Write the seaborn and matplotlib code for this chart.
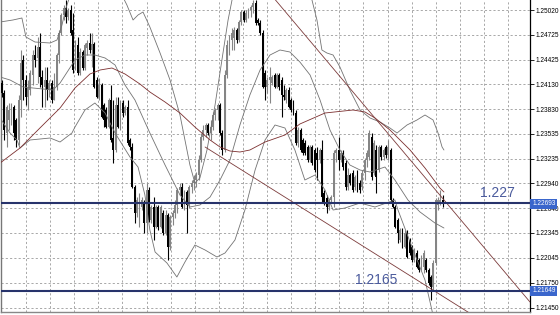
import numpy as np
import pandas as pd
import matplotlib
matplotlib.use("Agg")
import matplotlib.pyplot as plt
import matplotlib.transforms as mtransforms
import seaborn as sns

# ---------------- data ----------------
opens = [
1.2414,1.2402,1.2354,1.2370,1.2374,1.2386,1.2370,1.2346,1.2394,1.2442,
1.2418,1.2398,1.2406,1.2424,1.2448,1.2444,1.2458,1.2422,1.2410,1.2418,
1.2406,1.2414,1.2394,1.2410,1.2448,1.2474,1.2496,1.2504,1.2494,1.2502,
1.2478,1.2436,1.2460,1.2426,1.2452,1.2432,1.2456,1.2462,1.2454,1.2461,
1.2418,1.2398,1.2412,1.2388,1.2382,1.2362,1.2394,1.2348,1.2334,1.2388,
1.2362,1.2390,1.2378,1.2386,1.2346,1.2338,1.2290,1.2258,1.2268,1.2266,
1.2270,1.2246,1.2286,1.2250,1.2266,1.2242,1.2266,1.2242,1.2258,1.2234,
1.2256,1.2218,1.2254,1.2258,1.2268,1.2286,1.2290,1.2266,1.2284,1.2268,
1.2290,1.2294,1.2298,1.2304,1.2322,1.2350,1.2358,1.2364,1.2354,1.2362,
1.2376,1.2382,1.2388,1.2354,1.2334,1.2424,1.2460,1.2466,1.2468,1.2478,
1.2466,1.2488,1.2500,1.2490,1.2496,1.2502,1.2506,1.2510,1.2490,1.2486,
1.2474,1.2426,1.2410,1.2418,1.2414,1.2424,1.2410,1.2424,1.2418,1.2400,
1.2394,1.2406,1.2394,1.2390,1.2378,1.2342,1.2358,1.2346,1.2342,1.2338,
1.2322,1.2338,1.2334,1.2330,1.2322,1.2334,1.2282,1.2276,1.2266,1.2274,
1.2278,1.2330,1.2334,1.2322,1.2330,1.2318,1.2290,1.2304,1.2306,1.2290,
1.2306,1.2294,1.2290,1.2306,1.2322,1.2326,1.2350,1.2306,1.2334,1.2310,
1.2338,1.2326,1.2338,1.2328,1.2334,1.2274,1.2266,1.2250,1.2226,1.2238,
1.2218,1.2234,1.2226,1.2218,1.2202,1.2210,1.2202,1.2194,1.2194,1.2202,
1.2190,1.2182,1.2170,1.2198,1.2268,1.2270,1.2274]
highs = [
1.2418,1.2406,1.2388,1.2390,1.2390,1.2388,1.2372,1.2400,1.2454,1.2448,
1.2424,1.2418,1.2430,1.2454,1.2460,1.2470,1.2474,1.2430,1.2434,1.2434,
1.2418,1.2418,1.2426,1.2450,1.2478,1.2498,1.2508,1.2514,1.2504,1.2508,
1.2498,1.2466,1.2470,1.2456,1.2454,1.2462,1.2466,1.2474,1.2474,1.2464,
1.2422,1.2420,1.2414,1.2390,1.2386,1.2396,1.2412,1.2394,1.2398,1.2398,
1.2394,1.2394,1.2388,1.2394,1.2348,1.2342,1.2292,1.2278,1.2282,1.2278,
1.2274,1.2294,1.2290,1.2268,1.2278,1.2268,1.2268,1.2268,1.2262,1.2262,
1.2258,1.2256,1.2262,1.2274,1.2288,1.2294,1.2294,1.2286,1.2286,1.2292,
1.2298,1.2304,1.2308,1.2328,1.2354,1.2364,1.2366,1.2366,1.2370,1.2380,
1.2384,1.2390,1.2390,1.2358,1.2430,1.2466,1.2472,1.2480,1.2482,1.2480,
1.2490,1.2502,1.2502,1.2502,1.2504,1.2508,1.2514,1.2514,1.2492,1.2490,
1.2478,1.2430,1.2422,1.2434,1.2424,1.2426,1.2426,1.2426,1.2422,1.2412,
1.2408,1.2410,1.2396,1.2394,1.2382,1.2362,1.2360,1.2348,1.2346,1.2340,
1.2340,1.2340,1.2336,1.2338,1.2336,1.2346,1.2286,1.2280,1.2276,1.2280,
1.2334,1.2336,1.2350,1.2334,1.2334,1.2322,1.2312,1.2306,1.2310,1.2304,
1.2310,1.2298,1.2310,1.2324,1.2334,1.2358,1.2354,1.2346,1.2340,1.2340,
1.2340,1.2336,1.2340,1.2346,1.2336,1.2276,1.2268,1.2252,1.2240,1.2240,
1.2238,1.2238,1.2228,1.2220,1.2216,1.2214,1.2204,1.2208,1.2214,1.2204,
1.2192,1.2184,1.2202,1.2276,1.2278,1.2286,1.2280]
lows = [
1.2398,1.2346,1.2338,1.2358,1.2364,1.2346,1.2338,1.2340,1.2374,1.2394,
1.2388,1.2382,1.2400,1.2412,1.2434,1.2414,1.2410,1.2386,1.2386,1.2394,
1.2398,1.2390,1.2394,1.2406,1.2438,1.2472,1.2490,1.2486,1.2490,1.2472,
1.2426,1.2430,1.2424,1.2424,1.2430,1.2430,1.2448,1.2450,1.2434,1.2408,
1.2396,1.2394,1.2372,1.2362,1.2360,1.2360,1.2344,1.2318,1.2332,1.2360,
1.2358,1.2374,1.2376,1.2340,1.2334,1.2288,1.2246,1.2254,1.2242,1.2262,
1.2234,1.2234,1.2248,1.2246,1.2226,1.2240,1.2238,1.2240,1.2232,1.2232,
1.2202,1.2214,1.2244,1.2252,1.2258,1.2280,1.2264,1.2262,1.2234,1.2264,
1.2282,1.2286,1.2290,1.2298,1.2320,1.2346,1.2350,1.2352,1.2346,1.2358,
1.2370,1.2370,1.2352,1.2328,1.2332,1.2420,1.2448,1.2454,1.2454,1.2462,
1.2464,1.2484,1.2488,1.2488,1.2492,1.2494,1.2498,1.2484,1.2484,1.2472,
1.2408,1.2394,1.2402,1.2390,1.2412,1.2408,1.2408,1.2406,1.2374,1.2394,
1.2390,1.2384,1.2380,1.2376,1.2340,1.2338,1.2332,1.2328,1.2328,1.2320,
1.2320,1.2316,1.2308,1.2298,1.2318,1.2270,1.2268,1.2258,1.2262,1.2270,
1.2266,1.2320,1.2310,1.2320,1.2310,1.2286,1.2286,1.2292,1.2284,1.2286,
1.2284,1.2282,1.2286,1.2298,1.2314,1.2322,1.2298,1.2304,1.2282,1.2308,
1.2322,1.2322,1.2324,1.2322,1.2272,1.2264,1.2240,1.2222,1.2224,1.2216,
1.2216,1.2204,1.2208,1.2200,1.2200,1.2192,1.2188,1.2190,1.2186,1.2188,
1.2172,1.2154,1.2166,1.2196,1.2262,1.2268,1.2266]
closes = [
1.2402,1.2358,1.2386,1.2382,1.2386,1.2354,1.2346,1.2394,1.2438,1.2418,
1.2398,1.2408,1.2426,1.2448,1.2442,1.2458,1.2422,1.2412,1.2418,1.2406,
1.2414,1.2394,1.2410,1.2448,1.2474,1.2496,1.2504,1.2494,1.2502,1.2474,
1.2430,1.2460,1.2426,1.2452,1.2432,1.2460,1.2462,1.2454,1.2461,1.2410,
1.2398,1.2412,1.2374,1.2370,1.2362,1.2394,1.2346,1.2334,1.2388,1.2362,
1.2390,1.2378,1.2386,1.2342,1.2338,1.2290,1.2258,1.2274,1.2278,1.2274,
1.2246,1.2286,1.2250,1.2266,1.2242,1.2266,1.2242,1.2266,1.2234,1.2256,
1.2218,1.2254,1.2258,1.2268,1.2286,1.2290,1.2266,1.2284,1.2268,1.2290,
1.2294,1.2298,1.2304,1.2322,1.2350,1.2358,1.2364,1.2354,1.2362,1.2376,
1.2382,1.2388,1.2354,1.2334,1.2424,1.2460,1.2466,1.2474,1.2478,1.2466,
1.2488,1.2500,1.2490,1.2498,1.2502,1.2506,1.2510,1.2486,1.2486,1.2474,
1.2410,1.2410,1.2418,1.2422,1.2422,1.2410,1.2424,1.2410,1.2400,1.2398,
1.2406,1.2386,1.2382,1.2378,1.2342,1.2358,1.2334,1.2330,1.2330,1.2322,
1.2338,1.2318,1.2310,1.2322,1.2334,1.2278,1.2270,1.2266,1.2274,1.2278,
1.2330,1.2334,1.2322,1.2330,1.2314,1.2290,1.2304,1.2294,1.2286,1.2302,
1.2286,1.2286,1.2306,1.2322,1.2330,1.2354,1.2302,1.2342,1.2302,1.2338,
1.2326,1.2334,1.2328,1.2338,1.2274,1.2266,1.2242,1.2234,1.2238,1.2218,
1.2234,1.2206,1.2210,1.2202,1.2214,1.2194,1.2190,1.2206,1.2210,1.2190,
1.2174,1.2170,1.2198,1.2274,1.2274,1.2274,1.2269]

# Bollinger bands & moving average, read at sample bars
upper_x = [-0.8,4.6,8.4,10.1,13.9,20.3,23.2,25.3,27.0,29.5,37.1,45.6,50.6,52.7,55.3,57.4,59.5,62.4,66.7,70.9,
           75.1,79.3,81.4,83.5,86.5,89.9,92.8,95.4,97.9,108.9,121.5,127.8,130.8,132.9,135.0,137.1,139.7,142.6,146.8,151.1,
           155.3,159.5,163.7,166.7,170.9,175.1,178.5,181.9,184.0,185.7,186.5]
upper_y = [1.24876,1.2490,1.24924,1.24696,1.24636,1.24624,1.2466,1.2484,1.25044,1.2526,1.2544,1.2538,1.2520,1.2508,1.2490,1.2496,1.24996,1.24816,1.24504,1.2418,
           1.2376,1.2316,1.22944,1.23004,1.2334,1.2388,1.2442,1.2490,1.2526,1.2562,1.2562,1.2538,1.2514,1.2490,1.2454,1.24504,1.2448,1.24336,1.2406,1.2382,
           1.23724,1.23676,1.23604,1.23544,1.2364,1.2370,1.2376,1.2370,1.23544,1.23376,1.2334]
mid_x = [-0.8,3.4,8.9,13.1,21.5,24.5,30.8,35.0,39.2,43.5,47.7,51.9,56.1,62.4,68.8,75.1,79.3,83.5,87.8,92.0,
         96.2,100.4,104.6,108.9,113.1,117.3,121.5,125.7,130.0,134.2,138.4,142.6,146.8,151.1,155.3,161.6,165.8,171.3,176.4,182.7,186.5]
mid_y = [1.24216,1.2418,1.24096,1.24084,1.2406,1.24144,1.2442,1.2448,1.2448,1.24444,1.2436,1.2412,1.2394,1.23544,1.2316,1.2280,1.22656,1.2268,1.22776,1.2298,
         1.2322,1.2364,1.2400,1.2430,1.2448,1.2454,1.24516,1.24396,1.2424,1.2394,1.2358,1.2334,1.2316,1.2310,1.23076,1.23136,1.2298,1.2274,1.22596,1.22464,1.22404]
lower_x = [-0.8,3.4,6.3,7.6,11.8,20.3,24.5,29.5,30.8,35.0,39.2,43.5,47.7,54.0,57.4,60.3,62.4,64.6,69.6,73.8,
           77.2,81.4,85.7,90.7,94.1,98.3,102.5,106.8,111.0,115.2,119.4,123.6,127.8,132.1,136.3,139.7,144.7,151.1,157.4,165.8,
           167.1,173.0,178.5,181.4,183.1]
lower_y = [1.23724,1.23544,1.2346,1.23364,1.2346,1.23484,1.23436,1.23544,1.23616,1.2382,1.23904,1.23784,1.23544,1.23256,1.23136,1.2280,1.2238,1.22116,1.21984,1.21816,
           1.21996,1.2220,1.2214,1.22056,1.22104,1.2226,1.2262,1.2310,1.2346,1.2364,1.23604,1.2334,1.2298,1.2304,1.2286,1.2262,1.22644,1.22704,1.22656,1.2274,
           1.2262,1.22176,1.2178,1.2142,1.2118]
ma_x = [-0.8,7.6,16.0,24.5,30.8,37.1,41.4,46.4,51.9,58.2,62.4,68.8,75.1,81.4,87.8,92.0,96.2,100.4,104.6,111.0,
        119.4,125.7,136.3,148.1,153.2,157.4,163.7,172.2,178.5,184.8,186.5]
ma_y = [1.23184,1.23364,1.23604,1.23844,1.24084,1.24252,1.2430,1.24324,1.24252,1.24132,1.24036,1.23916,1.23784,1.23616,1.2346,1.23376,1.23328,1.23316,1.2334,1.23436,
        1.2352,1.23652,1.23784,1.2382,1.23796,1.23724,1.2358,1.2334,1.23124,1.22884,1.22836]

# trend lines (two anchor points each) and horizontal levels
tl_upper_x = [112.2, 222.8]
tl_upper_y = [1.25248, 1.21516]
tl_lower_x = [85.7, 222.8]
tl_lower_y = [1.23376, 1.20928]
levels = [1.227, 1.2165]
level_labels = ["1.227", "1.2165"]
level_label_x = [201.5, 148.9]
yticks = [1.25020, 1.24725, 1.24425, 1.24130, 1.23830, 1.23535, 1.23235,
          1.22940, 1.22640, 1.22345, 1.22045, 1.21750, 1.21450]
price_tags = [1.22693, 1.21649]

# ---------------- drawing ----------------
sns.set_style("white")
plt.rcParams['font.family'] = ['Liberation Sans', 'DejaVu Sans']

fig = plt.figure(figsize=(5.6, 3.15), dpi=100)
ax = fig.add_axes([0.0018, 0.0095, 0.9446, 0.9905])

n = len(closes)
idx = np.arange(n)
o = np.array(opens); c = np.array(closes); h = np.array(highs); l = np.array(lows)
bull = c >= o
col = np.where(bull, '#858585', '#000000')

# grid
ax.set_xlim(-0.42, 222.8)
ax.set_ylim(1.21396, 1.2514)
ax.set_xticks(np.arange(10.13, 222.8, 10.17))
ax.set_yticks(yticks)
ax.grid(True, color='#a8a8a8', linestyle=(0, (2.2, 2.2)), linewidth=0.7)
ax.set_axisbelow(True)

# candles
ax.vlines(idx, l, h, colors=col, linewidth=0.8, zorder=3)
body = np.maximum(np.abs(c - o), 0.00004)
ax.bar(idx, body, bottom=np.minimum(o, c), width=0.8, color=col, linewidth=0, zorder=4)

# indicators via seaborn
df_u = pd.DataFrame({'x': upper_x, 'y': upper_y})
df_m = pd.DataFrame({'x': mid_x, 'y': mid_y})
df_l = pd.DataFrame({'x': lower_x, 'y': lower_y})
df_ma = pd.DataFrame({'x': ma_x, 'y': ma_y})
for d in (df_u, df_m, df_l):
    sns.lineplot(data=d, x='x', y='y', ax=ax, color='#737373', linewidth=0.6,
                 estimator=None, sort=False, zorder=5)
sns.lineplot(data=df_ma, x='x', y='y', ax=ax, color='#7b2f2f', linewidth=0.6,
             estimator=None, sort=False, zorder=5)
sns.lineplot(x=tl_upper_x, y=tl_upper_y, ax=ax, color='#7b3a3a', linewidth=0.6,
             estimator=None, sort=False, zorder=5)
sns.lineplot(x=tl_lower_x, y=tl_lower_y, ax=ax, color='#7b3a3a', linewidth=0.6,
             estimator=None, sort=False, zorder=5)

for lv in levels:
    ax.axhline(lv, color='#27336b', linewidth=1.5, zorder=6)
for lab, lx, lv in zip(level_labels, level_label_x, levels):
    ax.text(lx, lv + 0.00045, lab, fontsize=10, color='#4a5a9c', ha='left', va='bottom', zorder=7)

# axes styling
ax.set_xlabel(''); ax.set_ylabel('')
ax.yaxis.tick_right()
ax.tick_params(axis='y', which='both', right=True, left=False, length=3, width=0.6,
               labelsize=4.7, pad=1.0, colors='#000000')
ax.tick_params(axis='x', which='both', bottom=False, labelbottom=False, length=0)
ax.set_yticklabels([f"{v:.5f}" for v in yticks])
ax.spines['top'].set_visible(False)
ax.spines['right'].set_color('#000000'); ax.spines['right'].set_linewidth(0.9)
ax.spines['left'].set_color('#777777'); ax.spines['left'].set_linewidth(1.0)
ax.spines['bottom'].set_color('#888888'); ax.spines['bottom'].set_linewidth(1.0)

trans = mtransforms.blended_transform_factory(ax.transAxes, ax.transData)
for pv in price_tags:
    ax.text(1.004, pv, f"{pv:.5f}", transform=trans, fontsize=4.7, color='white',
            ha='left', va='center', clip_on=False, zorder=10,
            bbox=dict(boxstyle='square,pad=0.25', facecolor='#3a66cc', edgecolor='none'))

fig.savefig('out.png', dpi=100)
